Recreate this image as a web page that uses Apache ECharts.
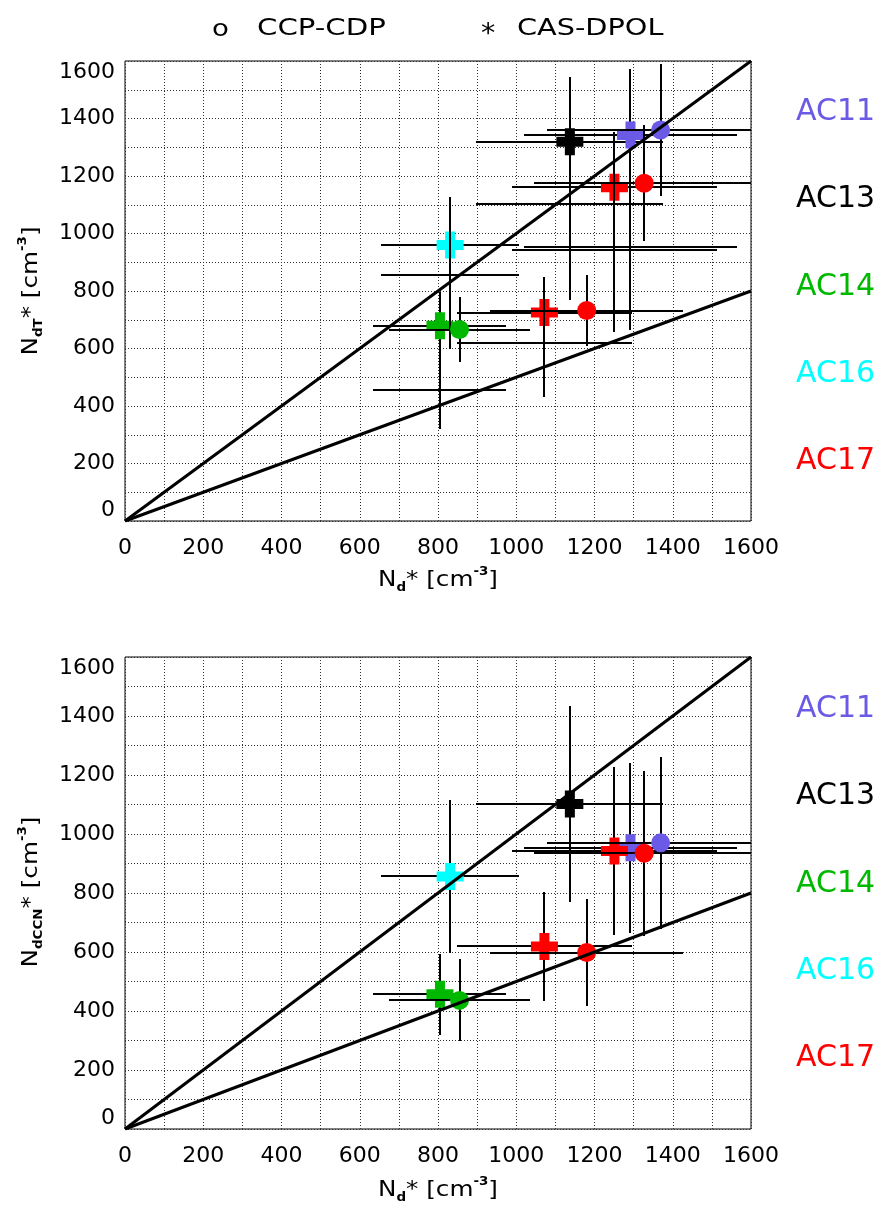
<!DOCTYPE html>
<html>
<head>
<meta charset="utf-8">
<script src="https://cdn.jsdelivr.net/npm/echarts@6/dist/echarts.min.js"></script>
<style>
  html, body { margin: 0; padding: 0; background: #fff; }
  #chart { width: 883px; height: 1205px; }
</style>
</head>
<body>
<div id="chart"></div>
<script>
// Campaigns and their colours
const campaigns = ['AC11', 'AC13', 'AC14', 'AC16', 'AC17'];
const campaignColors = ['#6a5ae6', '#000000', '#00b800', '#00ffff', '#ff0000'];

// CAS-DPOL (plus markers): N_d*, N_dT*, N_dCCN* with their spreads [cm^-3]
const casCampaign = ['AC11', 'AC13', 'AC14', 'AC16', 'AC17', 'AC17'];
const casNd       = [1292, 1137,  805,  831, 1251, 1072];
const casNdErr    = [ 271,  239,  170,  176,  263,  224];
const casNdT      = [1343, 1319,  679,  960, 1161,  725];
const casNdTErr   = [ 228,  226,  116,  166,  193,  125];
const casNdCCN    = [ 953, 1102,  457,  856,  942,  619];
const casNdCCNErr = [ 288,  333,  137,  259,  285,  186];

// CCP-CDP (circle markers)
const cdpCampaign = ['AC11', 'AC14', 'AC17', 'AC17'];
const cdpNd       = [1369,  855, 1327, 1180];
const cdpNdErr    = [ 290,  181,  281,  247];
const cdpNdT      = [1360,  666, 1175,  732];
const cdpNdTErr   = [ 230,  113,  202,  125];
const cdpNdCCN    = [ 970,  436,  935,  598];
const cdpNdCCNErr = [ 292,  139,  280,  182];

// Axis tick labels and reference lines (1:1 and 1:2)
const tickLabels = [0, 200, 400, 600, 800, 1000, 1200, 1400, 1600];
const oneToOne = [[0, 0], [1600, 1600]];
const oneToTwo = [[0, 0], [1600, 800]];

const FONT = 'DejaVu Sans';
const PLUS = 'path://M8.5,0H18.5V8.5H27V18.5H18.5V27H8.5V18.5H0V8.5H8.5Z';

const colorOf = name => campaignColors[campaigns.indexOf(name)];
const markerData = (xs, ys, names) =>
  xs.map((x, i) => ({ value: [x, ys[i]], itemStyle: { color: colorOf(names[i]), opacity: 1 } }));
const barData = (xs, xe, ys, ye) => xs.map((x, i) => [x, ys[i], xe[i], ye[i]]);

// Horizontal and vertical spread bars around a point (snapped to whole pixels)
function errorBar(params, api) {
  const x = api.value(0), y = api.value(1), ex = api.value(2), ey = api.value(3);
  const snap = p => [Math.round(p[0]), Math.round(p[1])];
  const l = snap(api.coord([x - ex, y])), r = snap(api.coord([x + ex, y]));
  const t = snap(api.coord([x, y + ey])), b = snap(api.coord([x, y - ey]));
  const style = { stroke: '#000', lineWidth: 2 };
  return {
    type: 'group',
    children: [
      { type: 'line', shape: { x1: l[0], y1: l[1], x2: r[0], y2: l[1] }, style },
      { type: 'line', shape: { x1: t[0], y1: t[1], x2: t[0], y2: b[1] }, style }
    ]
  };
}

function barSeries(data, gi, z) {
  return {
    type: 'custom', xAxisIndex: gi, yAxisIndex: gi, clip: true, silent: true,
    renderItem: errorBar, encode: { x: 0, y: 1 }, data, z
  };
}
function markerSeries(data, gi, symbol, size, z) {
  return {
    type: 'scatter', xAxisIndex: gi, yAxisIndex: gi, symbol, symbolSize: size,
    itemStyle: { opacity: 1 }, emphasis: { disabled: true },
    data, z, silent: true
  };
}
function refLine(data, gi) {
  return {
    type: 'line', xAxisIndex: gi, yAxisIndex: gi, data, symbol: 'none', silent: true,
    lineStyle: { color: '#000', width: 3 }, z: 6
  };
}

function xAxis(gi) {
  return {
    type: 'value', gridIndex: gi, min: 0, max: 1600, interval: 100,
    axisLine: { show: false }, axisTick: { show: false },
    splitLine: { show: true, lineStyle: { color: '#333', width: 1, type: [1, 2] } },
    axisLabel: {
      margin: 16, fontFamily: FONT, fontSize: 22, color: '#000',
      showMinLabel: true, showMaxLabel: true,
      formatter: v => tickLabels.includes(v) ? String(v) : ''
    }
  };
}
function yAxis(gi) {
  return {
    type: 'value', gridIndex: gi, min: 0, max: 1600, interval: 100,
    axisLine: { show: false }, axisTick: { show: false },
    splitLine: { show: true, lineStyle: { color: '#333', width: 1, type: [1, 2] } },
    axisLabel: {
      margin: 10, fontFamily: FONT, fontSize: 22, color: '#000',
      showMinLabel: true, showMaxLabel: true,
      verticalAlignMinLabel: 'bottom', verticalAlignMaxLabel: 'top',
      formatter: v => tickLabels.includes(v) ? String(v) : ''
    }
  };
}

// Text helpers for titles, legend and campaign names
function text(x, y, str, size, color, extra) {
  return Object.assign({
    type: 'text', x, y, silent: true,
    style: { text: str, fontFamily: FONT, fontSize: size, fill: color,
             textAlign: 'left', textVerticalAlign: 'middle' }
  }, extra || {});
}
const richUnits = {
  n:   { fontFamily: FONT, fontSize: 22, lineHeight: 28, fill: '#000' },
  sub: { fontFamily: FONT, fontSize: 12, fontWeight: 'bold', lineHeight: 28,
         verticalAlign: 'bottom', fill: '#000' },
  sup: { fontFamily: FONT, fontSize: 12, fontWeight: 'bold', lineHeight: 28,
         verticalAlign: 'top', fill: '#000' }
};
function axisTitle(x, y, sub, rotation) {
  return {
    type: 'text', x, y, rotation, scaleX: 1.12, silent: true,
    style: {
      text: '{n|N}{sub|' + sub + '}{n|* [cm}{sup|-3}{n|]}',
      rich: richUnits, textAlign: 'center', textVerticalAlign: 'middle'
    }
  };
}

const gridTops = [61, 657];
const gridHeights = [460, 472];
const labelY = [112, 199, 287, 374, 461];

const graphics = [
  text(212, 30, 'o', 23, '#000', { scaleX: 1.2 }),
  text(257, 29, 'CCP-CDP', 23, '#000', { scaleX: 1.27 }),
  text(481, 35, '*', 26, '#000', { scaleX: 1.1 }),
  text(517, 29, 'CAS-DPOL', 23, '#000', { scaleX: 1.25 }),
  axisTitle(438, 580, 'd', 0),
  axisTitle(438, 1190, 'd', 0),
  axisTitle(31, 291, 'dT', Math.PI / 2),
  axisTitle(31, 892, 'dCCN', Math.PI / 2)
];
[0, 597].forEach(dy => {
  campaigns.forEach((c, i) => {
    graphics.push(text(796, labelY[i] + dy, c, 30, campaignColors[i]));
  });
});

const series = [
  // upper panel: N_dT* against N_d*
  barSeries(barData(casNd, casNdErr, casNdT, casNdTErr), 0, 2),
  markerSeries(markerData(casNd, casNdT, casCampaign), 0, PLUS, 27, 3),
  // CAS-DPOL bars at the CCN-derived values also appear in the upper panel
  barSeries(barData(casNd, casNdErr, casNdCCN, casNdCCNErr), 0, 4),
  barSeries(barData(cdpNd, cdpNdErr, cdpNdT, cdpNdTErr), 0, 4),
  markerSeries(markerData(cdpNd, cdpNdT, cdpCampaign), 0, 'circle', 19, 5),
  refLine(oneToOne, 0),
  refLine(oneToTwo, 0),
  // lower panel: N_dCCN* against N_d*
  barSeries(barData(casNd, casNdErr, casNdCCN, casNdCCNErr), 1, 2),
  markerSeries(markerData(casNd, casNdCCN, casCampaign), 1, PLUS, 27, 3),
  barSeries(barData(cdpNd, cdpNdErr, cdpNdCCN, cdpNdCCNErr), 1, 4),
  markerSeries(markerData(cdpNd, cdpNdCCN, cdpCampaign), 1, 'circle', 19, 5),
  refLine(oneToOne, 1),
  refLine(oneToTwo, 1)
];

const chart = echarts.init(document.getElementById('chart'), null, { renderer: 'canvas' });
chart.setOption({
  animation: false,
  backgroundColor: '#fff',
  grid: gridTops.map((top, gi) => ({
    left: 125, width: 626, top, height: gridHeights[gi],
    show: true, borderColor: '#000', borderWidth: 1, backgroundColor: 'transparent'
  })),
  xAxis: [xAxis(0), xAxis(1)],
  yAxis: [yAxis(0), yAxis(1)],
  series,
  graphic: graphics
});
</script>
</body>
</html>
